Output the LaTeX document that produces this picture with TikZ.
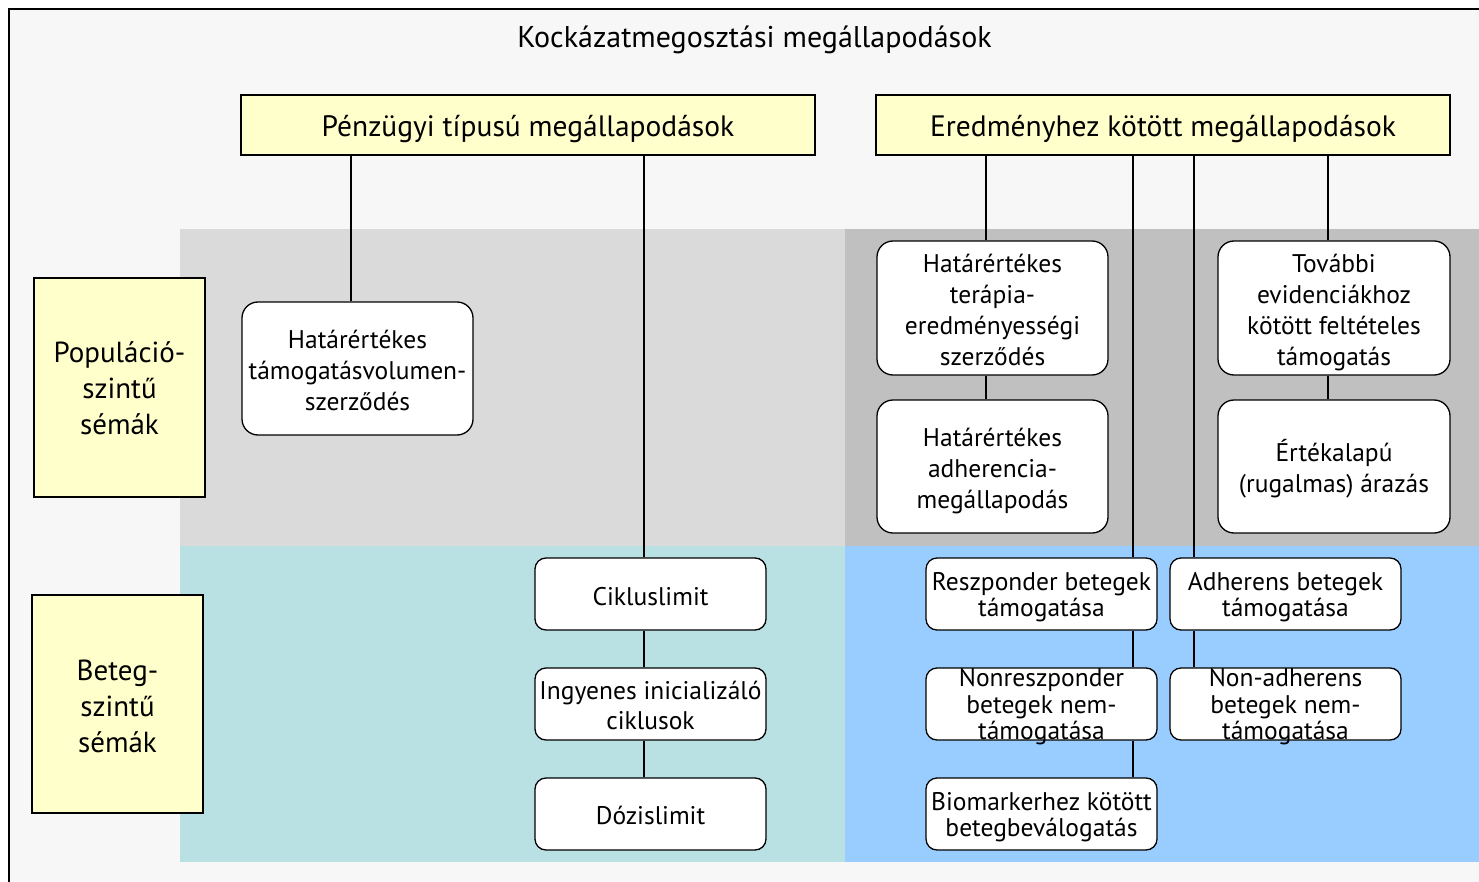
\documentclass[tikz,border=0pt]{standalone}
\usepackage{fontspec}
\setmainfont{PT Sans}
\definecolor{bgc}{HTML}{F7F7F7}
\definecolor{ylw}{HTML}{FFFFCC}
\definecolor{lgrey}{HTML}{DADADA}
\definecolor{dgrey}{HTML}{C0C0C0}
\definecolor{teal}{HTML}{B9E0E3}
\definecolor{lblue}{HTML}{99CCFF}
\newcommand{\firstl}[2][3pt]{\rule{0pt}{\dimexpr0.72em+#1\relax}\smash{#2}}
\newcommand{\lastl}[1]{\smash{#1}}
\begin{document}
\begin{tikzpicture}[x=1pt,y=-1pt,
  ybox/.style={draw=black, line width=1.3pt, fill=ylw, inner sep=0pt, align=center},
  hdr/.style={ybox, minimum width=574pt, minimum height=60pt, font=\fontsize{29.5}{34}\selectfont},
  lbl/.style={ybox, minimum width=171pt, minimum height=218pt, font=\fontsize{29}{36}\selectfont},
  tallbox/.style={draw=black, line width=1.3pt, fill=white, rounded corners=16pt, inner sep=0pt, align=center,
     minimum width=231pt, minimum height=133pt, font=\fontsize{25.5}{31}\selectfont},
  shortbox/.style={draw=black, line width=1.3pt, fill=white, rounded corners=11pt, inner sep=0pt, align=center,
     minimum width=231pt, minimum height=72pt, font=\fontsize{25.5}{26.5}\selectfont},
  conn/.style={line width=1.1pt}]
\useasboundingbox (0,0) rectangle (1479,882);
\clip (0,0) rectangle (1479,882);
% frame and background
\fill[bgc] (9,9) rectangle (1495,895);
\draw[line width=1.3pt] (9,900) -- (9,9) -- (1495,9);
% bands
\fill[lgrey] (180,229) rectangle (845,546);
\fill[dgrey] (845,229) rectangle (1495,546);
\fill[teal] (180,546) rectangle (845,862);
\fill[lblue] (845,546) rectangle (1495,862);
% title
\node[font=\fontsize{30}{34}\selectfont, anchor=base, inner sep=0pt] (title) at (754.5,47.5) {Kockázatmegosztási megállapodások};
% headers
\node[hdr] (h1) at (528,125) {\firstl[2pt]{Pénzügyi típusú megállapodások}};
\node[hdr] (h2) at (1163,125) {\firstl[2pt]{Eredményhez kötött megállapodások}};
% left labels
\node[lbl, minimum height=219pt] (popl) at (119.5,387.5) {\firstl[1pt]{Populáció-}\\szintű\\\lastl{sémák}};
\node[lbl] (betl) at (117.5,704) {\firstl[4pt]{Beteg-}\\szintű\\\lastl{sémák}};
% connector x positions
\coordinate (xa) at (351,0);
\coordinate (xb) at (644,0);
\coordinate (xc) at (986,0);
\coordinate (xd) at (1133,0);
\coordinate (xe) at (1194,0);
\coordinate (xf) at (1328,0);
% boxes
\node[tallbox] (vol) at (357.5,368.5) {\firstl[4pt]{Határértékes}\\támogatásvolumen-\\\lastl{szerződés}};
\node[shortbox] (cik) at (650.5,594) {\firstl[4pt]{Cikluslimit}};
\node[shortbox, font=\fontsize{25.5}{30}\selectfont] (ing) at (650.5,704) {\firstl[2pt]{Ingyenes inicializáló}\\\lastl{ciklusok}};
\node[shortbox] (doz) at (650.5,814) {\firstl[2pt]{Dózislimit}};
\node[tallbox, minimum height=134pt] (ter) at (992.5,308) {\firstl[4pt]{Határértékes}\\terápia-\\eredményességi\\\lastl{szerződés}};
\node[tallbox] (adh) at (992.5,466.5) {\firstl[3pt]{Határértékes}\\adherencia-\\\lastl{megállapodás}};
\node[tallbox, minimum width=232pt, minimum height=134pt] (tov) at (1334,308) {\firstl[4pt]{További}\\evidenciákhoz\\kötött feltételes\\\lastl{támogatás}};
\node[tallbox, minimum width=232pt] (ert) at (1334,466.5) {\firstl[2pt]{Értékalapú}\\\lastl{(rugalmas) árazás}};
\node[shortbox] (resz) at (1041.5,594) {\firstl[1pt]{Reszponder betegek}\\\lastl{támogatása}};
\node[shortbox] (nonr) at (1041.5,704) {\firstl[0.5pt]{Nonreszponder}\\betegek nem-\\\lastl{támogatása}};
\node[shortbox] (bio) at (1041.5,814) {\firstl[0.5pt]{Biomarkerhez kötött}\\\lastl{betegbeválogatás}};
\node[shortbox] (adhb) at (1285.5,594) {\firstl[1pt]{Adherens betegek}\\\lastl{támogatása}};
\node[shortbox] (nona) at (1285.5,704) {\firstl[0.5pt]{Non-adherens}\\betegek nem-\\\lastl{támogatása}};
% connectors
\draw[conn] (h1.south -| xa) -- (vol.north -| xa);
\draw[conn] (h1.south -| xb) -- (cik.north -| xb);
\draw[conn] (cik.south -| xb) -- (ing.north -| xb);
\draw[conn] (ing.south -| xb) -- (doz.north -| xb);
\draw[conn] (h2.south -| xc) -- (ter.north -| xc);
\draw[conn] (ter.south -| xc) -- (adh.north -| xc);
\draw[conn] (h2.south -| xf) -- (tov.north -| xf);
\draw[conn] (tov.south -| xf) -- (ert.north -| xf);
\draw[conn] (h2.south -| xd) -- (resz.north -| xd);
\draw[conn] (resz.south -| xd) -- (nonr.north -| xd);
\draw[conn] (nonr.south -| xd) -- (bio.north -| xd);
\draw[conn] (h2.south -| xe) -- (adhb.north -| xe);
\draw[conn] (adhb.south -| xe) -- (nona.north -| xe);
\end{tikzpicture}
\end{document}
